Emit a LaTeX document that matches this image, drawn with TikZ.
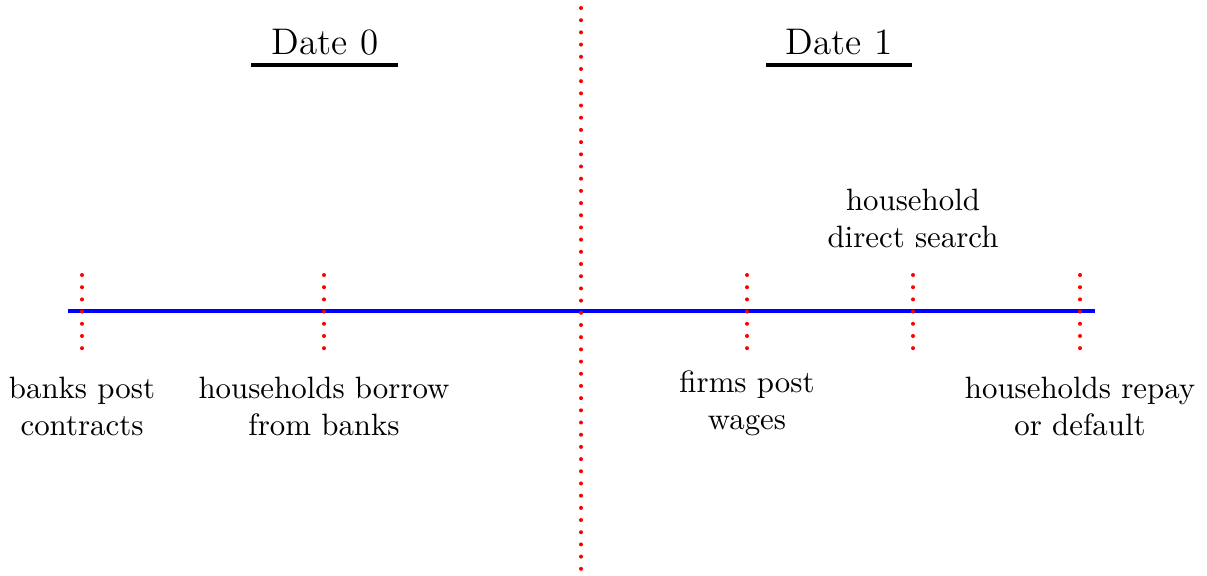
\documentclass[tikz,border=0pt]{standalone}
\begin{document}
\begin{tikzpicture}[x=0.324pt,y=-0.324pt,
  reddots/.style={red, line width=1.3pt, line cap=round, dash pattern=on 0pt off 3.95pt},
  timeline/.style={blue, line width=1.6pt},
  datelbl/.style={font=\large, anchor=base},
  dateline/.style={black, line width=1pt},
  evlbl/.style={align=center, font=\normalsize}]
\useasboundingbox (0,0) rectangle (1207,575);
% timeline
\coordinate (L) at (68,311);
\coordinate (R) at (1095,311);
\draw[timeline] (L) -- (R);
% centre divider
\coordinate (ct) at (581,8);
\coordinate (cb) at (581,577);
\draw[reddots] (ct) -- (cb);
% ticks
\foreach \n/\x in {a/82, b/324, c/747, d/913, e/1080}{
  \coordinate (\n t) at (\x,275);
  \coordinate (\n b) at (\x,350);
  \draw[reddots] (\n t) -- (\n b);
}
% dates
\node[datelbl] (d0) at (325,54) {Date 0};
\node[datelbl] (d1) at (839,54) {Date 1};
\coordinate (u0l) at (251,65); \coordinate (u0r) at (398,65);
\coordinate (u1l) at (766,65); \coordinate (u1r) at (912,65);
\draw[dateline] (u0l) -- (u0r);
\draw[dateline] (u1l) -- (u1r);
% labels
\node[evlbl] (la) at (82,406) {banks post\\contracts};
\node[evlbl] (lb) at (324,406) {households borrow\\from banks};
\node[evlbl] (lc) at (747,403) {firms post\\wages};
\node[evlbl] (ld) at (913,218) {household\\direct search};
\node[evlbl] (le) at (1080,406) {households repay\\or default};
\end{tikzpicture}
\end{document}
